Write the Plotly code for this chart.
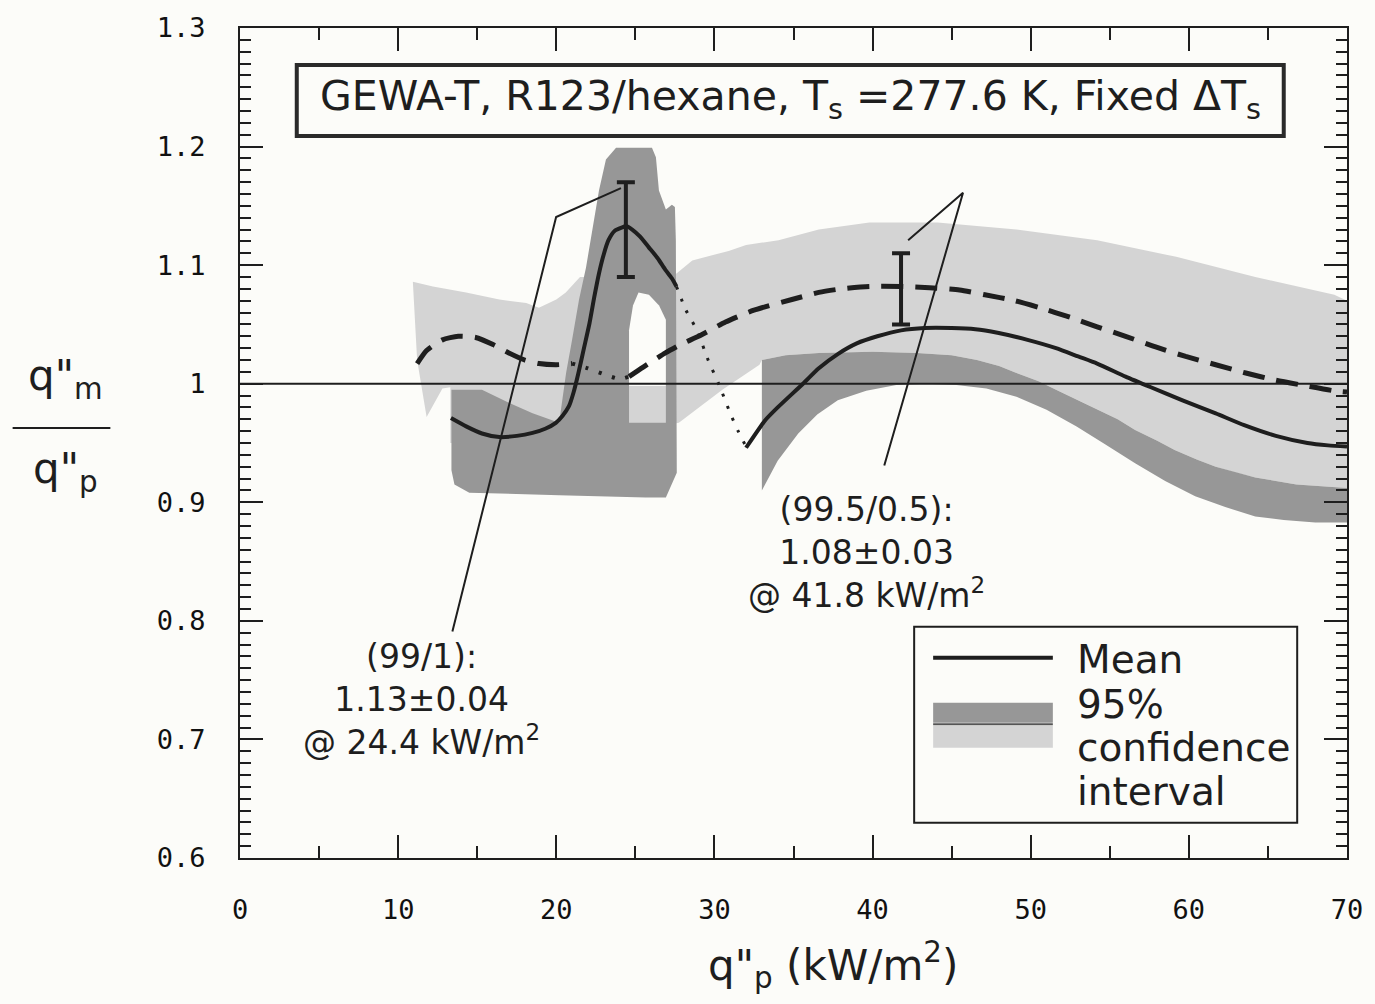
import plotly.graph_objects as go

# ---------------- data ----------------
# mean curve, 99/1 mixture (solid), split where the fit is undefined
mean1_a_x = [13.34, 14.3, 15.3, 16.4, 17.5, 18.5, 19.3, 19.97, 20.4, 20.8, 21.1, 21.4, 21.75, 22.1, 22.4, 22.7, 23.0, 23.3, 23.7, 24.2, 24.4, 24.8, 25.3, 25.85, 26.4, 26.9, 27.3, 27.6]
mean1_a_y = [0.971, 0.964, 0.958, 0.955, 0.956, 0.9585, 0.962, 0.967, 0.973, 0.981, 0.993, 1.009, 1.030, 1.051, 1.073, 1.093, 1.109, 1.121, 1.129, 1.132, 1.133, 1.130, 1.124, 1.115, 1.106, 1.096, 1.089, 1.082]
mean1_link_x = [27.6, 28.2, 28.9, 29.6, 30.3, 31.0, 31.5, 32.0]
mean1_link_y = [1.082, 1.062, 1.045, 1.020, 0.999, 0.975, 0.960, 0.947]
mean1_b_x = [32.0, 33.2, 34.0, 35.6, 36.6, 37.8, 39.0, 40.3, 41.8, 43.3, 45.0, 46.5, 47.9, 49.8, 51.6, 53.0, 54.2, 56.0, 57.6, 59.6, 61.7, 63.5, 65.5, 67.5, 68.8, 70.0]
mean1_b_y = [0.946, 0.969, 0.980, 1.000, 1.013, 1.025, 1.034, 1.040, 1.045, 1.047, 1.047, 1.046, 1.043, 1.037, 1.030, 1.023, 1.017, 1.006, 0.997, 0.986, 0.975, 0.965, 0.956, 0.950, 0.948, 0.947]

# mean curve, 99.5/0.5 mixture (dashed)
mean2_a_x = [11.2, 11.8, 12.8, 13.8, 14.9, 16.0, 17.0, 18.0, 18.9, 20.0, 21.0]
mean2_a_y = [1.017, 1.028, 1.037, 1.040, 1.039, 1.033, 1.026, 1.020, 1.017, 1.016, 1.017]
mean2_link_x = [21.0, 22.0, 23.0, 24.0, 24.6]
mean2_link_y = [1.017, 1.013, 1.008, 1.004, 1.006]
mean2_b_x = [24.6, 25.5, 26.9, 28.0, 29.0, 30.7, 32.5, 34.9, 36.6, 38.0, 39.8, 41.8, 43.6, 45.5, 47.1, 49.0, 50.6, 52.5, 54.2, 56.0, 57.9, 59.8, 61.7, 63.6, 65.5, 67.5, 69.2, 70.0]
mean2_b_y = [1.006, 1.014, 1.026, 1.034, 1.040, 1.052, 1.062, 1.071, 1.077, 1.080, 1.082, 1.082, 1.081, 1.079, 1.075, 1.070, 1.064, 1.056, 1.048, 1.040, 1.031, 1.023, 1.016, 1.009, 1.003, 0.998, 0.994, 0.993]

# 95% confidence region, 99.5/0.5 mixture (light), outline
ci2_x = [10.93, 12.2, 14.3, 16.4, 18.1, 18.9, 20.0, 20.6, 21.5, 24.5, 24.6, 26.93, 27.0, 27.6, 28.6, 30.9, 32.0, 34.05, 36.6, 39.8, 44.1, 49.1, 54.2, 59.2, 64.2, 69.2, 70.0,
         70.0, 66.8, 64.2, 63.0, 61.7, 60.5, 59.1, 58.0, 56.6, 55.5, 54.2, 53.0, 51.6, 50.5, 49.1, 48.0, 46.6, 45.0, 42.8, 40.0, 36.6, 34.5, 33.0,
         32.85, 30.5, 27.75, 20.0, 13.3, 13.3, 12.8, 11.8, 11.5, 11.2]
ci2_y = [1.086, 1.082, 1.077, 1.071, 1.068, 1.064, 1.071, 1.077, 1.090, 1.090, 0.998, 0.998, 1.090, 1.093, 1.104, 1.112, 1.117, 1.121, 1.130, 1.136, 1.136, 1.130, 1.121, 1.107, 1.090, 1.075, 1.070,
         0.912, 0.915, 0.921, 0.925, 0.930, 0.936, 0.944, 0.952, 0.961, 0.970, 0.978, 0.986, 0.995, 1.002, 1.009, 1.015, 1.020, 1.024, 1.026, 1.027, 1.026, 1.024, 1.020,
         1.016, 0.995, 0.967, 0.950, 0.950, 0.997, 0.996, 0.972, 0.995, 1.020]

# 95% confidence region, 99/1 mixture (dark), low-flux part
ci1_a_x = [13.37, 15.3, 17.0, 18.5, 20.18, 20.62, 21.0, 21.44, 21.88, 22.26, 22.7, 23.14, 23.78, 26.05, 26.3, 26.49, 26.93, 27.31, 27.5, 27.56, 27.62, 26.93, 25.67, 20.18, 14.5, 13.56, 13.37]
ci1_a_y = [0.995, 0.995, 0.984, 0.975, 0.967, 1.009, 1.037, 1.071, 1.098, 1.127, 1.163, 1.189, 1.199, 1.199, 1.191, 1.163, 1.147, 1.151, 1.149, 1.121, 0.925, 0.904, 0.904, 0.906, 0.908, 0.915, 0.927]
# uncovered pocket inside the low-flux region
ci1_gap_x = [24.6, 24.6, 24.85, 25.2, 25.86, 26.5, 26.93, 26.93]
ci1_gap_y = [0.998, 1.045, 1.066, 1.077, 1.075, 1.066, 1.054, 0.998]
ci2_gap_x = [24.6, 26.93, 26.93, 24.6]
ci2_gap_y = [0.967, 0.967, 0.998, 0.998]

# 95% confidence region, 99/1 mixture (dark), high-flux part
ci1_b_upper_x = [33.0, 34.5, 36.6, 40.0, 42.8, 45.0, 46.6, 48.0, 49.1, 50.5, 51.6, 53.0, 54.2, 55.5, 56.6, 58.0, 59.1, 60.5, 61.7, 63.0, 64.2, 66.8, 70.0]
ci1_b_upper_y = [1.020, 1.024, 1.026, 1.027, 1.026, 1.024, 1.020, 1.015, 1.009, 1.002, 0.995, 0.986, 0.978, 0.970, 0.961, 0.952, 0.944, 0.936, 0.930, 0.925, 0.921, 0.915, 0.912]
ci1_b_lower_x = [33.0, 34.0, 35.3, 36.5, 37.8, 39.6, 41.5, 43.4, 45.3, 47.2, 49.1, 51.0, 52.9, 54.7, 56.6, 58.5, 60.4, 62.3, 64.2, 66.0, 68.0, 70.0]
ci1_b_lower_y = [0.910, 0.935, 0.958, 0.974, 0.986, 0.994, 0.999, 1.000, 0.999, 0.996, 0.989, 0.978, 0.964, 0.949, 0.933, 0.918, 0.905, 0.896, 0.888, 0.885, 0.883, 0.883]

# peak enhancement with uncertainty for each mixture
peak_x = [24.4, 41.8]
peak_y = [1.13, 1.08]
peak_err = [0.04, 0.03]

# leader lines from the labels to the peaks
lead1_x = [13.43, 19.99, 24.09]
lead1_y = [0.791, 1.1406, 1.165]
lead2_x = [40.74, 45.72, 42.25]
lead2_y = [0.931, 1.161, 1.121]

ytick_vals = [0.6, 0.7, 0.8, 0.9, 1.0, 1.1, 1.2, 1.3]
ytick_text = ["0.6", "0.7", "0.8", "0.9", "1", "1.1", "1.2", "1.3"]
xtick_vals = [0, 10, 20, 30, 40, 50, 60, 70]

# ---------------- styling ----------------
INK = "#1e1e1e"
DARK = "#979797"
LIGHT = "#d4d4d4"
BG = "#fcfcf9"
FONT = "DejaVu Sans"

fig = go.Figure()


def area(x, y, color):
    fig.add_trace(go.Scatter(x=x, y=y, mode="lines", fill="toself", fillcolor=color,
                             line=dict(width=0, color=color), hoverinfo="skip", showlegend=False))


def curve(x, y, width, dash=None):
    fig.add_trace(go.Scatter(x=x, y=y, mode="lines", line=dict(color=INK, width=width, dash=dash, shape="spline", smoothing=0.6),
                             hoverinfo="skip", showlegend=False))


def label(x, y, text, size, xref="x", yref="y", xanchor="center"):
    fig.add_annotation(x=x, y=y, xref=xref, yref=yref, text=text, showarrow=False,
                       xanchor=xanchor, yanchor="middle", align="center",
                       font=dict(family=FONT, size=size, color=INK))


area(ci2_x, ci2_y, LIGHT)
area(ci1_a_x, ci1_a_y, DARK)
area(ci1_b_upper_x + ci1_b_lower_x[::-1], ci1_b_upper_y + ci1_b_lower_y[::-1], DARK)
area(ci1_gap_x, ci1_gap_y, BG)
area(ci2_gap_x, ci2_gap_y, LIGHT)

# unity reference line
fig.add_shape(type="line", x0=0, x1=70, y0=1, y1=1, line=dict(color=INK, width=2), layer="above")

curve(mean2_a_x, mean2_a_y, 5, "22px,12px")
curve(mean2_link_x, mean2_link_y, 4, "3px,11px")
curve(mean2_b_x, mean2_b_y, 5, "22px,12px")
curve(mean1_a_x, mean1_a_y, 4)
curve(mean1_link_x, mean1_link_y, 3, "3px,10px")
curve(mean1_b_x, mean1_b_y, 4)

fig.add_trace(go.Scatter(x=peak_x, y=peak_y, mode="markers", marker=dict(size=1, color=INK, opacity=0),
                         error_y=dict(type="data", array=peak_err, width=9, thickness=4, color=INK),
                         hoverinfo="skip", showlegend=False))

for lx, ly in ((lead1_x, lead1_y), (lead2_x, lead2_y)):
    fig.add_trace(go.Scatter(x=lx, y=ly, mode="lines", line=dict(color=INK, width=2),
                             hoverinfo="skip", showlegend=False))

# title box
fig.add_shape(type="rect", x0=3.59, x1=66.0, y0=1.2089, y1=1.2688, fillcolor=BG,
              line=dict(color="#2a2a2a", width=4), layer="above")
label(34.81, 1.2405, "GEWA-T, R123/hexane, T<sub>s</sub> =277.6 K, Fixed \u0394T<sub>s</sub>", 41)

# legend box
fig.add_shape(type="rect", x0=42.63, x1=66.85, y0=0.6297, y1=0.795, fillcolor=BG,
              line=dict(color=INK, width=2), layer="above")
fig.add_shape(type="line", x0=43.83, x1=51.40, y0=0.7688, y1=0.7688, line=dict(color=INK, width=4), layer="above")
fig.add_shape(type="rect", x0=43.83, x1=51.40, y0=0.7140, y1=0.7309, fillcolor=DARK, line=dict(width=0), layer="above")
fig.add_shape(type="rect", x0=43.83, x1=51.40, y0=0.6929, y1=0.7115, fillcolor=LIGHT, line=dict(width=0), layer="above")
fig.add_shape(type="line", x0=43.83, x1=51.40, y0=0.7128, y1=0.7128, line=dict(color="#555", width=2), layer="above")
for txt, yy in (("Mean", 0.7671), ("95%", 0.7292), ("confidence", 0.6929), ("interval", 0.6558)):
    label(52.78, yy, txt, 39, xanchor="left")

# peak labels
label(11.45, 0.7334, "(99/1):<br>1.13\u00b10.04<br>@ 24.4 kW/m<sup>2</sup>", 33)
label(39.6, 0.8573, "(99.5/0.5):<br>1.08\u00b10.03<br>@ 41.8 kW/m<sup>2</sup>", 33)

# axis titles
label(0.536, -0.129, "q\"<sub>p</sub> (kW/m<sup>2</sup>)", 42, xref="paper", yref="paper")
label(-0.158, 0.578, "q\"<sub>m</sub>", 42, xref="paper", yref="paper")
label(-0.158, 0.466, "q\"<sub>p</sub>", 42, xref="paper", yref="paper")
fig.add_shape(type="line", xref="paper", yref="paper", x0=-0.2054, x1=-0.1171, y0=0.518, y1=0.518,
              line=dict(color=INK, width=2))

axis_common = dict(showgrid=False, zeroline=False, showline=True, linecolor=INK, linewidth=2,
                   mirror="allticks", ticks="inside", tickwidth=2, tickcolor=INK, ticklen=23,
                   tickfont=dict(family="DejaVu Sans Mono", size=27, color="#111"),
                   ticklabelstandoff=27)
fig.update_xaxes(range=[0, 70], tickvals=xtick_vals,
                 minor=dict(dtick=5, ticklen=12, tickwidth=2, tickcolor=INK, ticks="inside"),
                 **axis_common)
fig.update_yaxes(range=[0.6, 1.3], tickvals=ytick_vals, ticktext=ytick_text,
                 minor=dict(dtick=0.01, ticklen=11, tickwidth=2, tickcolor=INK, ticks="inside"),
                 **axis_common)

fig.update_layout(width=1375, height=1004, margin=dict(l=240, r=25, t=28, b=146),
                  paper_bgcolor=BG, plot_bgcolor=BG, showlegend=False)

fig.write_html("out.html")
